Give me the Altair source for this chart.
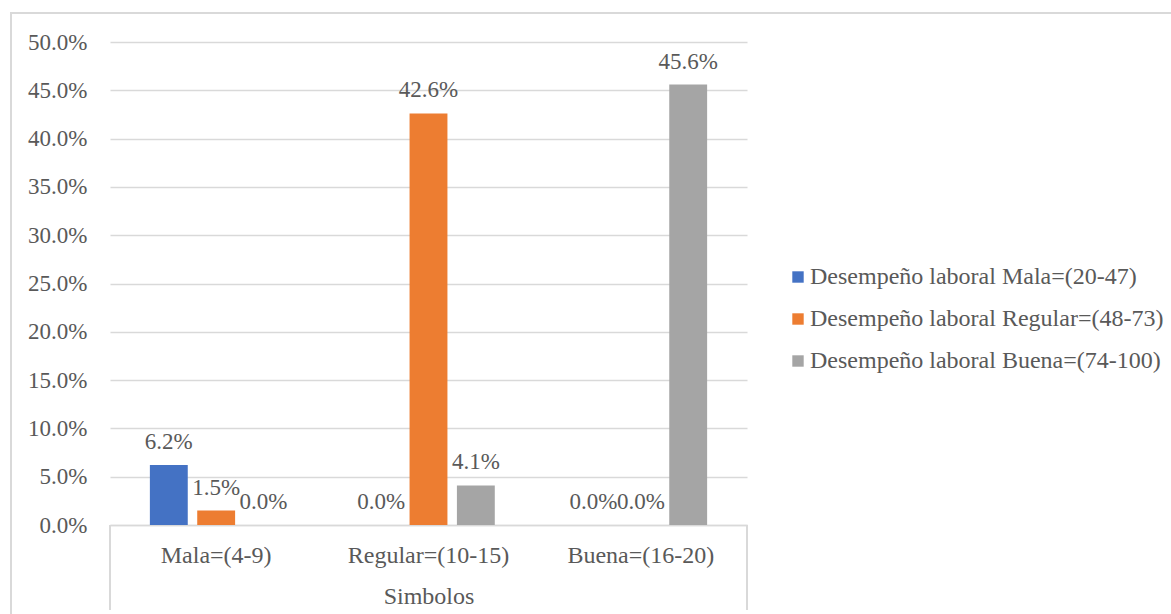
import altair as alt
import pandas as pd

categories = ["Mala=(4-9)", "Regular=(10-15)", "Buena=(16-20)"]
series = [
    "Desempeño laboral Mala=(20-47)",
    "Desempeño laboral Regular=(48-73)",
    "Desempeño laboral Buena=(74-100)",
]
colors = ["#4472C4", "#ED7D31", "#A5A5A5"]
# percentages per series, in category order
mala_vals = [6.2, 0.0, 0.0]
regular_vals = [1.5, 42.6, 0.0]
buena_vals = [0.0, 4.1, 45.6]
y_ticks = [0, 5, 10, 15, 20, 25, 30, 35, 40, 45, 50]
x_title = "Simbolos"

rows = []
for s, vals in zip(series, [mala_vals, regular_vals, buena_vals]):
    for c, v in zip(categories, vals):
        rows.append({"cat": c, "serie": s, "pct": v})
df = pd.DataFrame(rows)

FONT = "Liberation Serif"
TXT = "#595959"
GRID = "#D9D9D9"
W, H = 637, 483

base = alt.Chart(df).transform_calculate(v="datum.pct / 100")

xenc = alt.X(
    "cat:N",
    sort=categories,
    scale=alt.Scale(paddingInner=0.331, paddingOuter=0.1655),
    axis=alt.Axis(
        title=x_title,
        labelAngle=0,
        ticks=False,
        domainColor=GRID,
        domainWidth=1.5,
        labelPadding=18,
        titlePadding=17,
        labelFont=FONT,
        titleFont=FONT,
        labelFontSize=24,
        titleFontSize=24,
        labelColor=TXT,
        titleColor=TXT,
        titleFontWeight="normal",
    ),
)
xoff = alt.XOffset(
    "serie:N",
    sort=series,
    scale=alt.Scale(paddingInner=0.2, paddingOuter=0.1),
)
yenc = alt.Y(
    "v:Q",
    scale=alt.Scale(domain=[0, 0.5], nice=False),
    axis=alt.Axis(
        title=None,
        format=".1%",
        values=[t / 100 for t in y_ticks],
        domain=False,
        ticks=False,
        gridColor=GRID,
        gridWidth=1.3,
        labelPadding=23,
        labelFont=FONT,
        labelFontSize=23,
        labelColor=TXT,
    ),
)

bars = base.mark_bar().encode(
    x=xenc,
    xOffset=xoff,
    y=yenc,
    color=alt.Color(
        "serie:N",
        scale=alt.Scale(domain=series, range=colors),
        legend=alt.Legend(
            title=None,
            orient="none",
            legendX=676,
            legendY=223,
            symbolType="square",
            symbolSize=130,
            symbolStrokeWidth=0,
            labelOffset=0,
            rowPadding=18,
            labelFont=FONT,
            labelFontSize=24,
            labelColor=TXT,
            labelLimit=500,
        ),
    ),
)

labels = base.mark_text(
    baseline="alphabetic", dy=-16, font=FONT, fontSize=23, color=TXT
).encode(
    x=alt.X("cat:N", sort=categories),
    xOffset=alt.XOffset("serie:N", sort=series),
    y="v:Q",
    text=alt.Text("v:Q", format=".1%"),
)

border_df = pd.DataFrame({"k": [0]})
border = alt.Chart(border_df).mark_rect(
    fill=None, stroke=GRID, strokeWidth=2
).encode(
    x=alt.value(-99), x2=alt.value(1075), y=alt.value(-29), y2=alt.value(600)
)

edge_df = pd.DataFrame({"xp": [0, W]})
edges = alt.Chart(edge_df).mark_rule(color=GRID, strokeWidth=2).encode(
    x=alt.X("xp:Q", scale=None), y=alt.value(H), y2=alt.value(568)
)

chart = (
    alt.layer(border, bars, labels, edges)
    .properties(
        width=W,
        height=H,
        autosize=alt.AutoSizeParams(type="none"),
        padding={"left": 110, "top": 42, "right": 424, "bottom": 89},
        background="white",
    )
    .configure_view(stroke=None)
    .configure_axis(labelFont=FONT, titleFont=FONT)
    .configure_legend(labelFont=FONT, padding=0)
    .configure_text(font=FONT)
)

chart.save("out.html", embed_options={"renderer": "svg", "actions": False})
